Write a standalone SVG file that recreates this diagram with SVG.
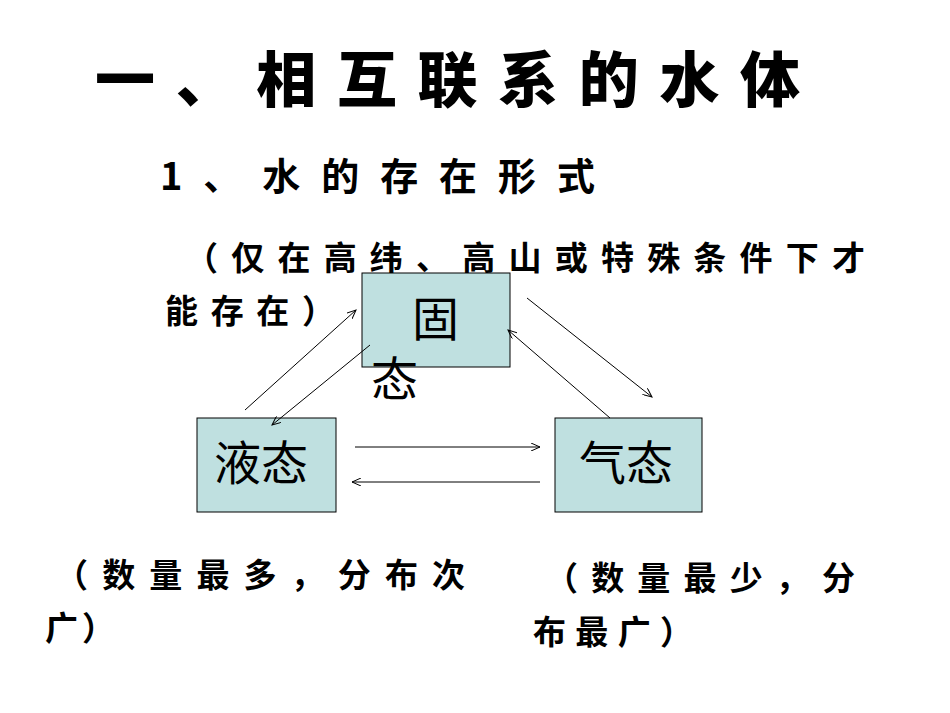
<svg xmlns="http://www.w3.org/2000/svg" width="950" height="713" viewBox="0 0 950 713">
<defs>
<style>
.t{font-family:"Noto Sans CJK SC","Noto Sans",sans-serif;fill:#000}
.b{fill:#bfe0e0;stroke:#000;stroke-width:1}
.c{stroke:#000;stroke-width:1;fill:none;marker-end:url(#a)}
</style>
<marker id="a" markerWidth="10" markerHeight="8" refX="9" refY="4" orient="auto" markerUnits="userSpaceOnUse">
<path d="M0,0 L9,4 L0,8" fill="none" stroke="#000" stroke-width="1"/>
</marker>
</defs>
<rect width="950" height="713" fill="#fff"/>
<text class="t" x="95" y="102" font-size="60" font-weight="900" textLength="705" lengthAdjust="spacing">一、相互联系的水体</text>
<text class="t" x="160" y="190" font-size="38" font-weight="700" textLength="435" lengthAdjust="spacing">1、水的存在形式</text>
<text class="t" x="185" y="270" font-size="33" font-weight="700" textLength="680" lengthAdjust="spacing">（仅在高纬、高山或特殊条件下才</text>
<text class="t" x="165" y="323" font-size="33" font-weight="700" textLength="170" lengthAdjust="spacing">能存在）</text>
<g id="solid"><rect class="b" x="362" y="273" width="148" height="94"/>
<text class="t" x="412" y="336" font-size="47">固</text>
<text class="t" x="371" y="396" font-size="47">态</text></g>
<g id="liquid"><rect class="b" x="197" y="418" width="139" height="94"/>
<text class="t" x="261" y="480" font-size="47" text-anchor="middle">液态</text></g>
<g id="gas"><rect class="b" x="555" y="418" width="147" height="94"/>
<text class="t" x="626" y="480" font-size="47" text-anchor="middle">气态</text></g>
<g id="connectors">
<line class="c" x1="245" y1="410" x2="356" y2="310"/>
<line class="c" x1="370" y1="345" x2="272" y2="425"/>
<line class="c" x1="527" y1="298" x2="652" y2="397"/>
<line class="c" x1="610" y1="418" x2="508" y2="330"/>
<line class="c" x1="355" y1="447" x2="540" y2="447"/>
<line class="c" x1="540" y1="482" x2="352" y2="482"/>
</g>
<text class="t" x="55" y="587" font-size="33" font-weight="700" textLength="410" lengthAdjust="spacing">（数量最多，分布次</text>
<text class="t" x="45" y="640" font-size="33" font-weight="700" textLength="70" lengthAdjust="spacing">广）</text>
<text class="t" x="545" y="590" font-size="33" font-weight="700" textLength="310" lengthAdjust="spacing">（数量最少，分</text>
<text class="t" x="533" y="644" font-size="33" font-weight="700" textLength="160" lengthAdjust="spacing">布最广）</text>
</svg>
